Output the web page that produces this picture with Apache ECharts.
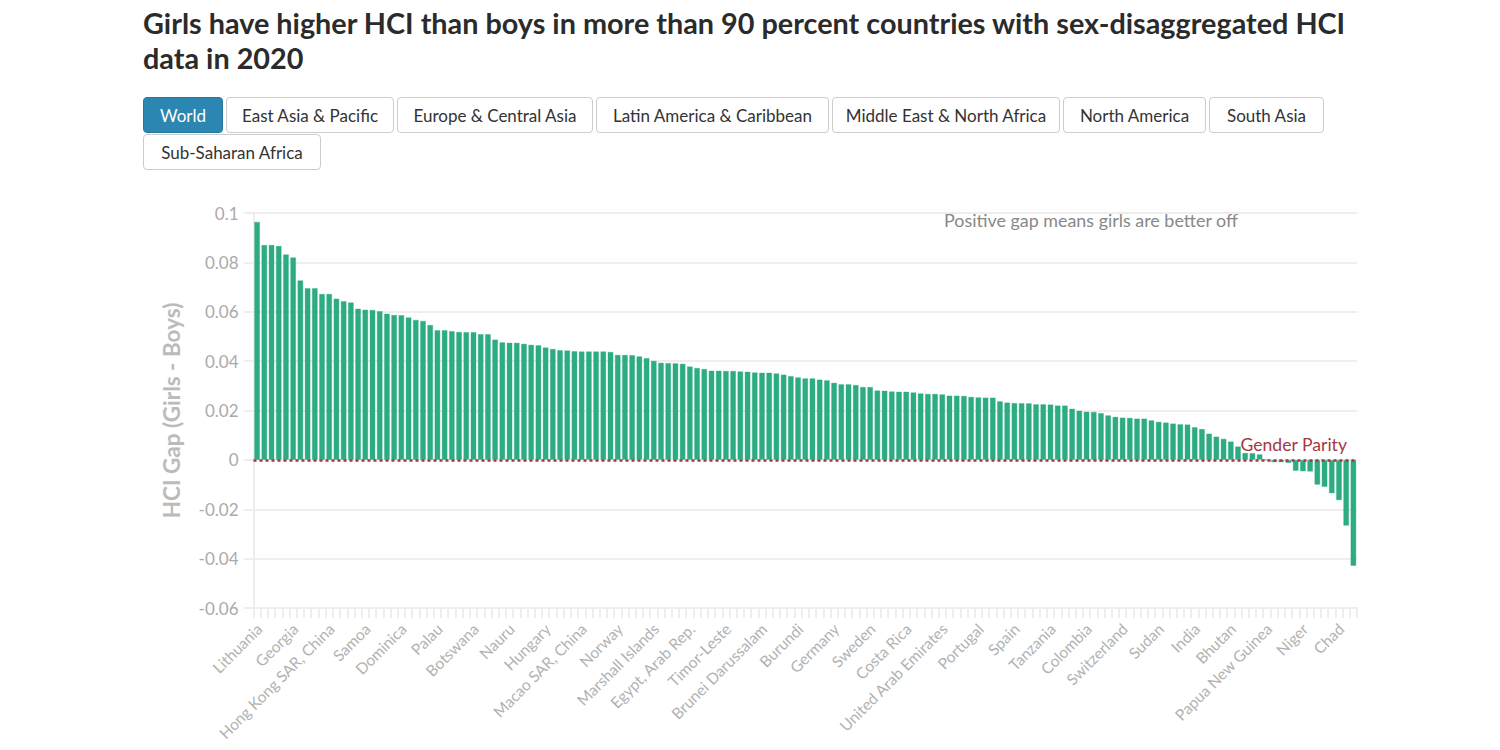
<!DOCTYPE html>
<html>
<head>
<meta charset="utf-8">
<script src="https://cdn.jsdelivr.net/npm/echarts@6/dist/echarts.min.js"></script>
<style>
  html, body { margin: 0; padding: 0; background: #fff; }
  body { width: 1500px; height: 750px; position: relative; overflow: hidden; font-family: Lato, "Noto Sans", sans-serif; }
  h1 { position: absolute; left: 143px; top: 6px; width: 1230px; margin: 0; font-size: 28.8px; line-height: 35px; font-weight: 700; color: #2b2b2b; }
  #tabs { position: absolute; left: 143px; top: 97px; width: 1230px; }
  #tabs button { box-sizing: border-box; height: 36px; margin: 0 3px 1px 0; padding: 0; float: left; background: #fff; color: #333; border: 1px solid #ccc; border-radius: 4px; font: 17px Lato, "Noto Sans", sans-serif; }
  #tabs button.active { background: #2b86b2; border-color: #26789f; color: #fff; }
  #chart { position: absolute; left: 0; top: 0; width: 1500px; height: 750px; }
</style>
</head>
<body>
<div id="chart"></div>
<h1>Girls have higher HCI than boys in more than 90 percent countries with sex-disaggregated HCI data in 2020</h1>
<div id="tabs"></div>
<script>
const regions = ['World', 'East Asia & Pacific', 'Europe & Central Asia', 'Latin America & Caribbean', 'Middle East & North Africa', 'North America', 'South Asia', 'Sub-Saharan Africa'];
const regionWidths = [80, 168, 196, 233, 228, 143, 115, 178];

// only every fifth country is labelled in the picture
const tickLabels = ['Lithuania', 'Georgia', 'Hong Kong SAR, China', 'Samoa', 'Dominica', 'Palau', 'Botswana', 'Nauru', 'Hungary', 'Macao SAR, China', 'Norway', 'Marshall Islands', 'Egypt, Arab Rep.', 'Timor-Leste', 'Brunei Darussalam', 'Burundi', 'Germany', 'Sweden', 'Costa Rica', 'United Arab Emirates', 'Portugal', 'Spain', 'Tanzania', 'Colombia', 'Switzerland', 'Sudan', 'India', 'Bhutan', 'Papua New Guinea', 'Niger', 'Chad'];

const hciGap = [
  .0965, .0871, .0871, .0867, .0833, .0821, .0728, .0696, .0696, .0673,
  .0673, .0654, .0644, .0638, .0613, .0609, .0608, .0603, .0593, .0588,
  .0587, .0578, .0568, .0564, .0547, .0526, .0526, .0522, .0519, .0518,
  .0518, .051, .051, .0488, .0477, .0475, .0475, .0471, .0467, .0465,
  .0456, .045, .0445, .0444, .0441, .044, .044, .044, .044, .0438,
  .0426, .0426, .0425, .042, .0413, .0402, .0394, .0393, .0392, .039,
  .0379, .0373, .0369, .0362, .0362, .0361, .0361, .0359, .0358, .0355,
  .0354, .0354, .0351, .0346, .034, .0335, .0331, .0331, .0326, .0323,
  .0313, .0307, .0307, .0304, .0296, .0296, .0282, .0281, .0278, .0277,
  .0277, .0274, .027, .0268, .0268, .0266, .0261, .0261, .026, .0256,
  .0254, .0253, .0253, .0238, .0233, .0231, .023, .023, .0226, .0226,
  .0225, .0221, .0221, .0208, .02, .0196, .0195, .019, .0181, .0175,
  .0172, .0171, .0168, .0168, .0161, .0155, .0152, .0148, .0145, .0144,
  .0133, .0126, .0107, .0095, .0086, .0075, .0055, .0029, .0028, .0023,
  .0001, -.001, -.001, -.0013, -.0045, -.0047, -.0048, -.0101, -.011, -.0136,
  -.0164, -.0267, -.043
];

const categories = hciGap.map((v, i) => (i % 5 === 0 ? tickLabels[i / 5] : ''));

const tabs = document.getElementById('tabs');
regions.forEach((name, i) => {
  const b = document.createElement('button');
  b.textContent = name;
  b.style.width = regionWidths[i] + 'px';
  if (i === 0) b.className = 'active';
  tabs.appendChild(b);
});

const font = 'Lato, "Noto Sans", sans-serif';
const gridLine = '#eeeeee';

const chart = echarts.init(document.getElementById('chart'), null, { renderer: 'svg' });
chart.setOption({
  animation: false,
  textStyle: { fontFamily: font },
  grid: { left: 253.5, right: 143, top: 213, bottom: 142, containLabel: false },
  xAxis: {
    type: 'category',
    data: categories,
    axisLine: { onZero: false, lineStyle: { color: gridLine, width: 2 } },
    axisTick: { show: true, alignWithLabel: false, interval: 0, length: 10, lineStyle: { color: gridLine, width: 2 } },
    axisLabel: { interval: 0, rotate: 45, color: '#b2b2b2', fontSize: 15.5, margin: 16, verticalAlign: 'top', lineHeight: 6 },
    splitLine: { show: false }
  },
  yAxis: {
    type: 'value',
    min: -0.06,
    max: 0.1,
    interval: 0.02,
    name: 'HCI Gap (Girls - Boys)',
    nameLocation: 'middle',
    nameGap: 71,
    nameTextStyle: { color: '#bbbbbb', fontSize: 22.5, fontWeight: 'bold' },
    axisLine: { show: true, lineStyle: { color: gridLine, width: 2 } },
    axisTick: { show: true, length: 10, lineStyle: { color: gridLine, width: 2 } },
    axisLabel: { color: '#aaaaaa', fontSize: 17, margin: 15 },
    splitLine: { show: true, lineStyle: { color: gridLine, width: 2 } }
  },
  series: [{
    type: 'bar',
    data: hciGap,
    barWidth: 6,
    itemStyle: { color: '#22a87c', opacity: 0.95, borderColor: 'rgba(34,168,124,0.35)', borderWidth: 1 },
    markLine: {
      silent: true,
      symbol: 'none',
      data: [{ yAxis: 0 }],
      lineStyle: { color: '#a5383f', type: [3, 3], width: 2.5 },
      label: { show: true, position: 'insideEndTop', formatter: 'Gender Parity', color: '#a5383f', fontSize: 17.6, distance: [10, 6], fontFamily: font }
    }
  }],
  graphic: [{
    type: 'text',
    left: 944,
    top: 211,
    style: { text: 'Positive gap means girls are better off', fill: '#888888', font: '17.9px ' + font }
  }]
});
</script>
</body>
</html>
